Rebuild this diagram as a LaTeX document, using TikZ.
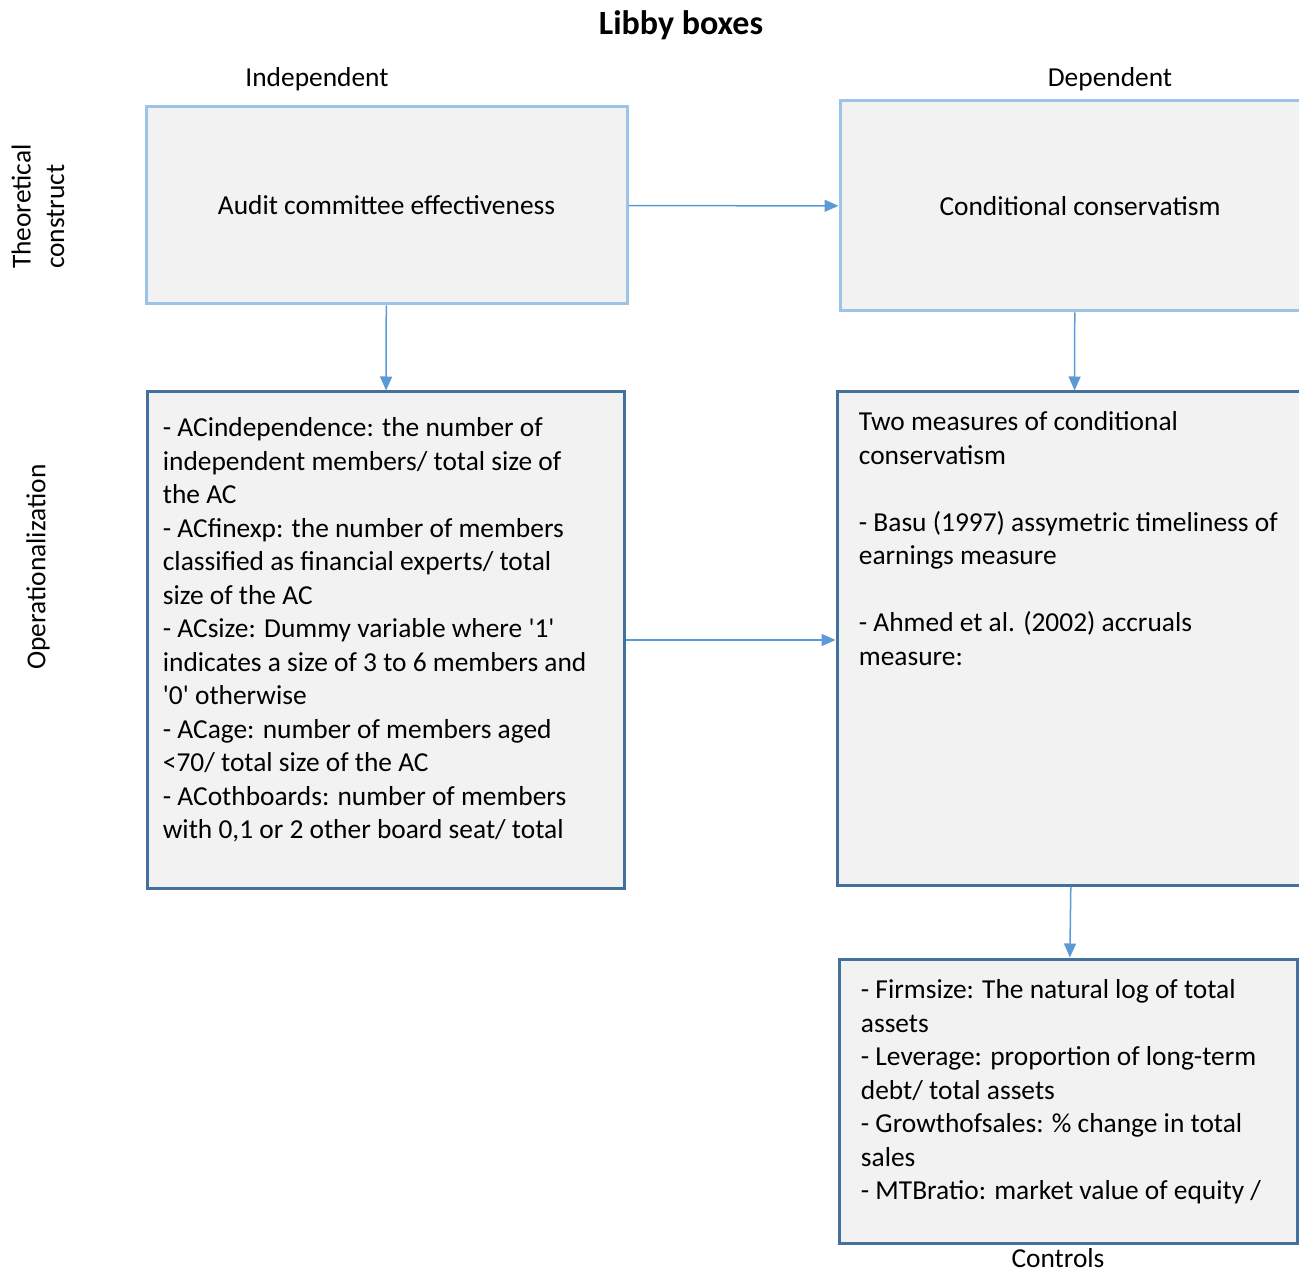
\documentclass[tikz,border=0pt]{standalone}
\usepackage{fontspec}
\setmainfont{Carlito}
\usepackage{tikz}
\usetikzlibrary{positioning,arrows.meta,calc}
\definecolor{lightedge}{HTML}{9DC3E6}
\definecolor{darkedge}{HTML}{41719C}
\definecolor{boxfill}{HTML}{F2F2F2}
\definecolor{arrowblue}{HTML}{5B9BD5}
\tikzset{%
  arrow/.style    = { -{Triangle[length=7pt,width=6pt]}, line width = 0.75pt, draw = arrowblue },
  tbox/.style     = { fill = boxfill, draw = #1, line width = 1.5pt, inner sep = 0pt, align = center },
  btext/.style    = { anchor = north west, align = left, inner sep = 0pt }
}

\begin{document}
\begin{tikzpicture}[x=0.5pt, y=-0.5pt, font=\fontsize{13.7}{16.75}\selectfont]
  \clip (0,0) rectangle (1299,1272);
  \node(title) at (681,25) {\bfseries\fontsize{17}{20}\selectfont Libby boxes};
  \node(indep) at (317,79) {Independent};
  \node(dep) at (1110,79) {Dependent};
  \node(theo)[rotate=90, align=left, anchor=west] at (38,276) {Theoretical\\construct};
  \node(oper)[rotate=90] at (38,567) {Operationalization};
  % theoretical construct
  \node(ac)[tbox=lightedge, minimum width=240.5pt, minimum height=98.5pt] at (386.5,205.5) {Audit committee effectiveness};
  \node(cc)[tbox=lightedge, minimum width=235pt, minimum height=105pt] at (1075,206) {\hspace*{5pt}Conditional conservatism};
  % operationalization
  \node(op)[tbox=darkedge, minimum width=238.5pt, minimum height=248pt] at (385.5,640) {};
  \node(om)[tbox=darkedge, minimum width=237pt, minimum height=246.5pt] at (1074,638.5) {};
  \node(ctl)[tbox=darkedge, minimum width=229pt, minimum height=142pt] at (1068,1101) {};
  \node(op-txt)[btext] at ([xshift=8.5pt, yshift=-13.5pt]op.north west) {%
    - ACindependence: the number of\\
    independent members/ total size of\\
    the AC\\
    - ACfinexp: the number of members\\
    classified as financial experts/ total\\
    size of the AC\\
    - ACsize: Dummy variable where \textquotesingle1\textquotesingle\\
    indicates a size of 3 to 6 members and\\
    \textquotesingle0\textquotesingle\ otherwise\\
    - ACage: number of members aged\\
    <70/ total size of the AC\\
    - ACothboards: number of members\\
    with 0,1 or 2 other board seat/ total};
  \node(om-txt)[btext] at ([xshift=11.5pt, yshift=-10.5pt]om.north west) {%
    Two measures of conditional\\
    conservatism\\[16.75pt]
    - Basu (1997) assymetric timeliness of\\
    earnings measure\\[16.75pt]
    - Ahmed et al. (2002) accruals\\
    measure:};
  \node(ctl-txt)[btext] at ([xshift=11.5pt, yshift=-11pt]ctl.north west) {%
    - Firmsize: The natural log of total\\
    assets\\
    - Leverage: proportion of long-term\\
    debt/ total assets\\
    - Growthofsales: \% change in total\\
    sales\\
    - MTBratio: market value of equity /};
  \node(controls)[inner sep=0pt] at (1058,1258) {Controls};
  \draw[arrow] (ac) -- (cc);
  \draw[arrow] (ac) -- (op);
  \draw[arrow] (cc) -- (om);
  \draw[arrow] (op.east) -- (op.east -| om.west);
  \draw[arrow] (om) -- (ctl);
\end{tikzpicture}
\end{document}
